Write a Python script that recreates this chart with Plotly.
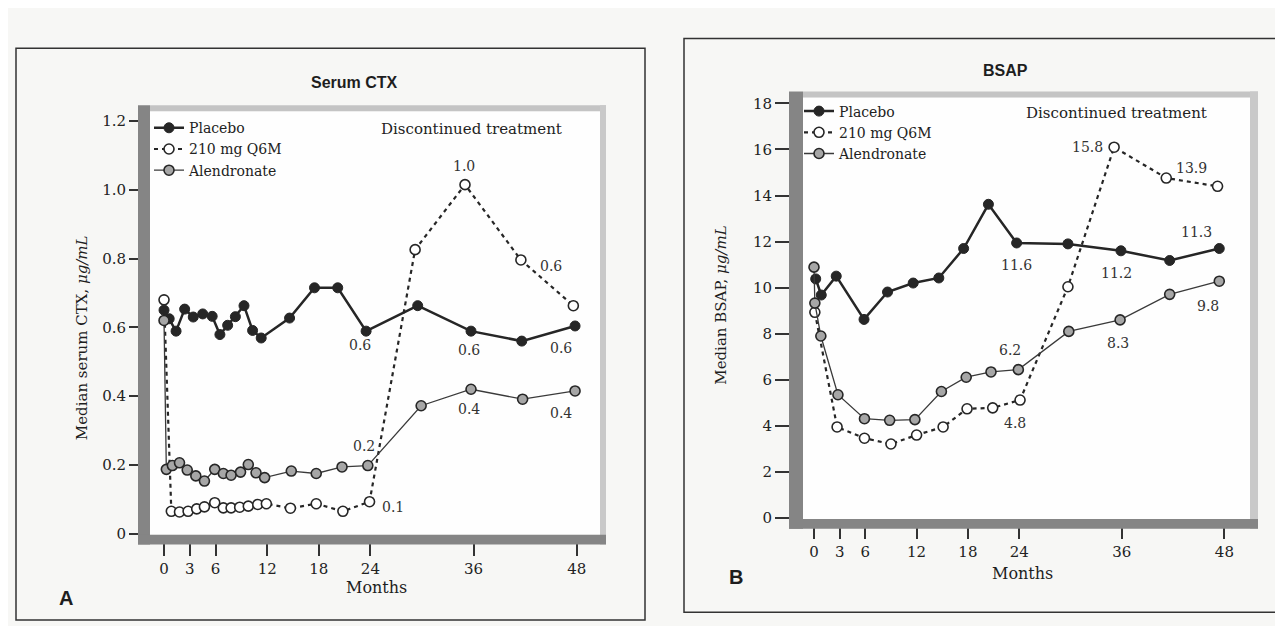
import plotly.graph_objects as go

# ---------------- DATA ----------------
# Panel A: Serum CTX (ug/mL)
a_placebo_months = [0, 0.6, 1.4, 2.4, 3.4, 4.5, 5.6, 6.5, 7.4, 8.3, 9.3, 10.3, 11.3,
                    14.6, 17.5, 20.2, 23.5, 29.5, 35.7, 41.6, 47.8]
a_placebo_vals = [0.65, 0.625, 0.589, 0.653, 0.63, 0.639, 0.632, 0.579, 0.606, 0.631, 0.663,
                  0.591, 0.569, 0.627, 0.715, 0.715, 0.589, 0.663, 0.589, 0.56, 0.604]

a_q6m_months = [0, 0.85, 1.8, 2.8, 3.8, 4.7, 5.9, 6.9, 7.8, 8.8, 9.8, 10.9, 11.9,
                14.7, 17.7, 20.8, 23.9, 29.2, 35.0, 41.5, 47.6]
a_q6m_vals = [0.68, 0.065, 0.063, 0.065, 0.072, 0.078, 0.09, 0.075, 0.075, 0.077, 0.08,
              0.085, 0.087, 0.074, 0.087, 0.065, 0.093, 0.826, 1.015, 0.796, 0.663]

a_alen_months = [0, 0.27, 0.97, 1.8, 2.7, 3.7, 4.7, 5.9, 6.9, 7.8, 8.9, 9.8, 10.7, 11.7,
                 14.8, 17.7, 20.7, 23.7, 29.9, 35.7, 41.7, 47.8]
a_alen_vals = [0.62, 0.187, 0.198, 0.206, 0.185, 0.168, 0.153, 0.187, 0.175, 0.17, 0.179,
               0.201, 0.177, 0.163, 0.182, 0.175, 0.194, 0.198, 0.372, 0.42, 0.391, 0.415]

# Panel B: BSAP (ug/mL)
b_placebo_months = [0.2, 0.85, 2.6, 5.85, 8.6, 11.6, 14.6, 17.5, 20.4, 23.7, 29.7, 35.9, 41.6, 47.4]
b_placebo_vals = [10.38, 9.68, 10.5, 8.62, 9.81, 10.2, 10.42, 11.7, 13.62, 11.94, 11.9, 11.6, 11.18, 11.7]

b_q6m_months = [0.1, 2.7, 5.9, 9.0, 12.0, 15.1, 17.9, 20.9, 24.1, 29.7, 35.1, 41.2, 47.2]
b_q6m_vals = [8.93, 3.95, 3.46, 3.21, 3.6, 3.95, 4.74, 4.78, 5.12, 10.04, 16.1, 14.76, 14.4]

b_alen_months = [0, 0.1, 0.8, 2.8, 5.9, 8.85, 11.8, 14.9, 17.8, 20.7, 23.9, 29.8, 35.8, 41.6, 47.4]
b_alen_vals = [10.89, 9.33, 7.9, 5.35, 4.31, 4.24, 4.27, 5.49, 6.11, 6.34, 6.44, 8.1, 8.6, 9.71, 10.28]

x_tickvals = [0, 3, 6, 12, 18, 24, 36, 48]
a_y_tickvals = [0, 0.2, 0.4, 0.6, 0.8, 1.0, 1.2]
a_y_ticktext = ["0", "0.2", "0.4", "0.6", "0.8", "1.0", "1.2"]
b_y_tickvals = [0, 2, 4, 6, 8, 10, 12, 14, 16, 18]

series_names = ["Placebo", "210 mg Q6M", "Alendronate"]

# value labels: (text, month, value)
a_labels = [("0.6", 22.8, 0.549), ("0.6", 35.5, 0.534), ("0.6", 46.2, 0.539),
            ("0.2", 23.3, 0.255), ("0.1", 26.6, 0.077), ("1.0", 34.9, 1.068),
            ("0.6", 45.0, 0.777), ("0.4", 35.5, 0.363), ("0.4", 46.2, 0.35)]
b_labels = [("11.6", 23.7, 10.99), ("11.2", 35.4, 10.64), ("11.3", 44.7, 12.41),
            ("15.8", 32.0, 16.11), ("13.9", 44.1, 15.19), ("9.8", 46.1, 9.21),
            ("8.3", 35.6, 7.58), ("6.2", 22.9, 7.3), ("4.8", 23.5, 4.13)]

# ---------------- STYLE ----------------
W, H = 1283, 626
SERIF = "DejaVu Serif"
DARK = "#262626"


def px(x):
    return x / W


def py(y):
    return 1 - y / H


fig = go.Figure()

styles = {
    "Placebo": dict(line=dict(color=DARK, width=2.5),
                    marker=dict(symbol="circle", size=10, color=DARK, line=dict(color=DARK, width=1))),
    "210 mg Q6M": dict(line=dict(color=DARK, width=2.2, dash="4px,4px"),
                       marker=dict(symbol="circle", size=10, color="white", line=dict(color=DARK, width=1.6))),
    "Alendronate": dict(line=dict(color="#3a3a3a", width=1.3),
                        marker=dict(symbol="circle", size=10, color="#a6a6a6", line=dict(color=DARK, width=1.6))),
}

panel_data = [
    ("x", "y", "legend", [(a_placebo_months, a_placebo_vals), (a_q6m_months, a_q6m_vals), (a_alen_months, a_alen_vals)]),
    ("x2", "y2", "legend2", [(b_placebo_months, b_placebo_vals), (b_q6m_months, b_q6m_vals), (b_alen_months, b_alen_vals)]),
]

for xa, ya, leg, series in panel_data:
    for name, (mx, vals) in zip(series_names, series):
        fig.add_trace(go.Scatter(x=mx, y=vals, name=name, mode="lines+markers",
                                 xaxis=xa, yaxis=ya, legend=leg, cliponaxis=False,
                                 **styles[name]))

tickfont = dict(family=SERIF, size=15, color="#222")
axis_common = dict(showgrid=False, zeroline=False, showline=False, ticks="outside",
                   tickwidth=2, tickcolor="#333", tickfont=tickfont)

fig.update_layout(
    width=W, height=H, autosize=False,
    margin=dict(l=0, r=0, t=0, b=0),
    paper_bgcolor="#f7f7f5", plot_bgcolor="#fefefe",
    font=dict(family=SERIF, color="#222"),
    xaxis=dict(domain=[px(142), px(592)], range=[-1.63, 50.7], anchor="y",
               tickvals=x_tickvals, ticklen=20, **axis_common),
    yaxis=dict(domain=[py(533), py(102)], range=[-1 / 350, 430 / 350], anchor="x",
               tickvals=a_y_tickvals, ticktext=a_y_ticktext, ticklen=20, **axis_common),
    xaxis2=dict(domain=[px(795), px(1242)], range=[-11 / 8.55, 436 / 8.55], anchor="y2",
                tickvals=x_tickvals, ticklen=19, **axis_common),
    yaxis2=dict(domain=[py(517), py(88)], range=[-1 / 23.44, 428 / 23.44], anchor="x2",
                tickvals=b_y_tickvals, ticklen=27, **axis_common),
    legend=dict(x=px(141), y=py(103), xanchor="left", yanchor="top",
                bgcolor="rgba(0,0,0,0)", font=dict(family=SERIF, size=14, color="#222"),
                tracegroupgap=0),
    legend2=dict(x=px(791), y=py(86), xanchor="left", yanchor="top",
                 bgcolor="rgba(0,0,0,0)", font=dict(family=SERIF, size=14, color="#222"),
                 tracegroupgap=0),
)

# ---------------- decorations: axis bands and frames ----------------
shapes = []


def rect(x0, y0, x1, y1, fill, line=None, layer="above"):
    d = dict(type="rect", xref="paper", yref="paper",
             x0=px(x0), x1=px(x1), y0=py(y1), y1=py(y0), layer=layer,
             fillcolor=fill, line=dict(width=0) if line is None else line)
    shapes.append(d)


# outer frames
rect(8, 38, 637, 620, "rgba(0,0,0,0)", line=dict(color="#333", width=1.5), layer="below")
rect(676, 28, 1276, 612, "rgba(0,0,0,0)", line=dict(color="#333", width=1.5), layer="below")

# panel A bands
rect(142, 96, 598, 102, "#c4c4c4")
rect(592, 96, 598, 543, "#c9c9c9")
rect(130, 96, 142, 543, "#858585")
rect(130, 533, 598, 543, "#858585")
# panel B bands
rect(795, 82, 1250, 88, "#c4c4c4")
rect(1242, 82, 1250, 527, "#c9c9c9")
rect(781, 82, 795, 527, "#858585")
rect(781, 517, 1250, 527, "#858585")

fig.update_layout(shapes=shapes)

# ---------------- annotations ----------------
ann = []
for text, mx, v in a_labels:
    ann.append(dict(text=text, x=mx, y=v, xref="x", yref="y", showarrow=False,
                    font=dict(family=SERIF, size=14, color="#333")))
for text, mx, v in b_labels:
    ann.append(dict(text=text, x=mx, y=v, xref="x2", yref="y2", showarrow=False,
                    font=dict(family=SERIF, size=14, color="#333")))

ann.append(dict(text="Discontinued treatment", x=35.7, y=1.177, xref="x", yref="y",
                showarrow=False, font=dict(family=SERIF, size=15, color="#222")))
ann.append(dict(text="Discontinued treatment", x=35.4, y=17.6, xref="x2", yref="y2",
                showarrow=False, font=dict(family=SERIF, size=15, color="#222")))

paper_text = [
    ("<b>Serum CTX</b>", 346, 73, 16, "Liberation Sans", 0),
    ("<b>BSAP</b>", 997, 61, 16, "Liberation Sans", 0),
    ("Months", 368, 587, 16, SERIF, 0),
    ("Months", 1014, 573, 16, SERIF, 0),
    ("Median serum CTX, <i>μg/mL</i>", 74, 333, 15, SERIF, -90),
    ("Median BSAP, <i>μg/mL</i>", 713, 300, 15, SERIF, -90),
    ("<b>A</b>", 58, 598, 20, "Liberation Sans", 0),
    ("<b>B</b>", 728, 576, 20, "Liberation Sans", 0),
]
for text, x, y, size, fam, ang in paper_text:
    ann.append(dict(text=text, x=px(x), y=py(y), xref="paper", yref="paper",
                    showarrow=False, textangle=ang, xanchor="center", yanchor="middle",
                    font=dict(family=fam, size=size, color="#1e1e1e")))

fig.update_layout(annotations=ann)

fig.write_html("out.html")
